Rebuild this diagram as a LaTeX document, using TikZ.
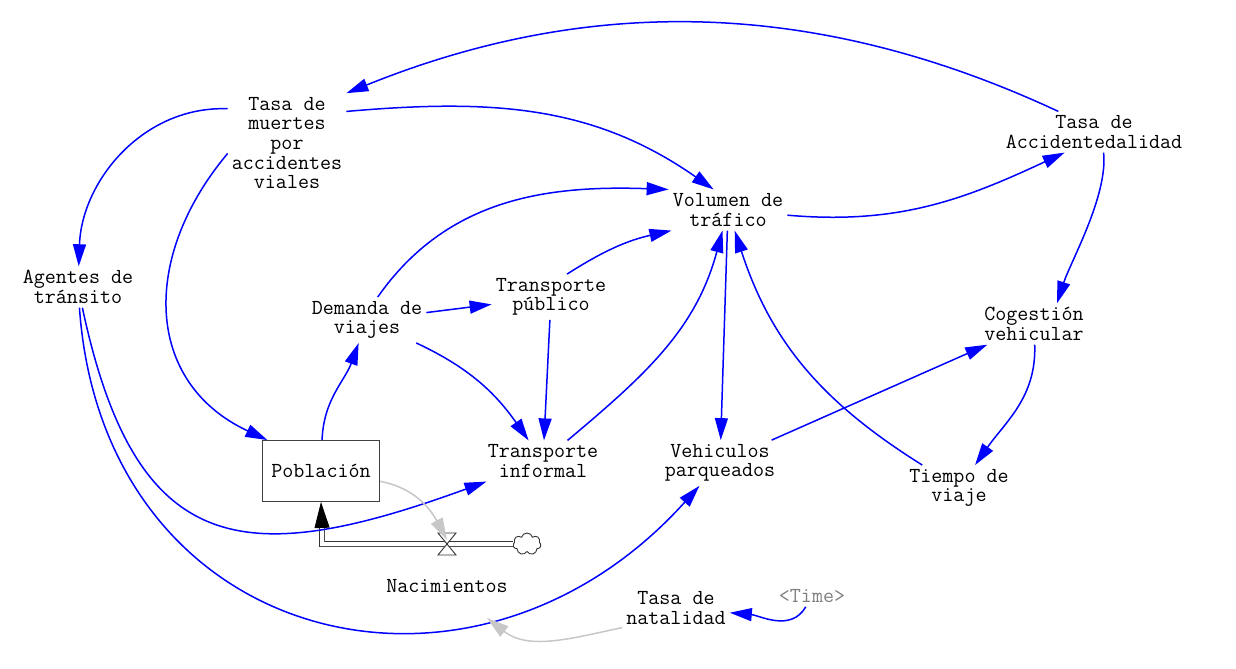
\documentclass[tikz,border=0pt]{standalone}
\usetikzlibrary{arrows.meta,shapes.symbols}

\begin{document}
\begin{tikzpicture}[x=1bp,y=1bp,
    var/.style={align=center,font=\ttfamily\fontsize{21.5}{19.6}\selectfont,inner sep=4bp},
    lnk/.style={blue,line width=1.5bp,-{Triangle[length=22bp,width=13bp]}},
    glnk/.style={black!22,line width=1.5bp,-{Triangle[length=22bp,width=13bp]}},
    pipe/.style={draw=black!80,line width=0.9bp,double=white,double distance=4bp}]
    \useasboundingbox (0,0) rectangle (1236,-669);
    % variables
    \node[var] (tm) at (287,-143) {Tasa de\\muertes\\por\\accidentes\\viales};
    \node[var] (ag) at (78,-287) {Agentes de\\tránsito};
    \node[var] (vt) at (728,-210) {Volumen de\\tráfico};
    \node[var] (ta) at (1094,-132) {Tasa de\\Accidentedalidad};
    \node[var] (cv) at (1034,-324) {Cogestión\\vehicular};
    \node[var] (tp) at (551,-297) {Transporte\\público};
    \node[var] (dv) at (367,-320) {Demanda de\\viajes};
    \node[var] (ti) at (543,-461) {Transporte\\informal};
    \node[var] (vp) at (720,-463) {Vehiculos\\parqueados};
    \node[var] (tv) at (959,-488) {Tiempo de\\viaje};
    \node[var] (nac) at (447,-586) {Nacimientos};
    \node[var] (tn) at (676,-608) {Tasa de\\natalidad};
    \node[var,text=black!50] (time) at (812,-596) {<Time>};
    % stock and flow
    \node[var,draw=black!75,line width=0.9bp,minimum width=117bp,minimum height=61bp] (pob) at (321,-471) {Población};
    \node[cloud,cloud puffs=7,draw=black!80,line width=0.9bp,minimum width=28bp,minimum height=22bp,inner sep=0pt] (cl) at (527,-544) {};
    \coordinate (valve) at (447,-544);
    \coordinate (corner) at (322,-544);
    \coordinate (pbase) at (322,-527);
    \coordinate (nacin) at (487,-618);
    \draw[pipe] (cl.west) -- (corner) -- (pbase);
    \draw[black,line width=0.9bp,-{Triangle[length=26bp,width=15bp]}] (pbase) -- (pob.south);
    \draw[black!80,line width=0.9bp,fill=white] ([shift={(-9,11)}]valve) -- ++(18,0) -- ++(-18,-22) -- ++(18,0) -- cycle;
    % links
    \path[lnk]
      (ta.150) edge[out=155,in=22,looseness=0.95] (tm.40)
      (tm.28) edge[out=5,in=145] (vt.125)
      (tm.150) edge[out=178,in=88] (ag)
      (tm.190) edge[out=230,in=155,looseness=1.2] (pob.150)
      (vt) edge[out=-5,in=205] (ta.215)
      (ta.295) edge[out=-84,in=72,looseness=0.7] (cv.42)
      (dv.65) edge[out=55,in=178] (vt.north west)
      (tp.55) edge[bend left=10] (vt.200)
      (dv) edge (tp)
      (dv) edge[out=-25,in=125] (ti)
      (tp) edge (ti)
      (ti) edge[out=40,in=255] (vt)
      (vt) edge (vp)
      (tv) edge[out=148,in=288] (vt)
      (vp) edge (cv)
      (cv) edge[out=-88,in=55] (tv)
      (pob) edge[out=88,in=250] (dv)
      (ag) edge[out=-78,in=200,looseness=1.5] (ti)
      (ag) edge[out=-86,in=228,looseness=1.35] (vp)
      (time) edge[out=-120,in=-5] (tn);
    \path[glnk]
      (tn.200) edge[out=192,in=-38] (nacin)
      (pob) edge[out=-10,in=118] ([yshift=4bp]valve);
\end{tikzpicture}
\end{document}
